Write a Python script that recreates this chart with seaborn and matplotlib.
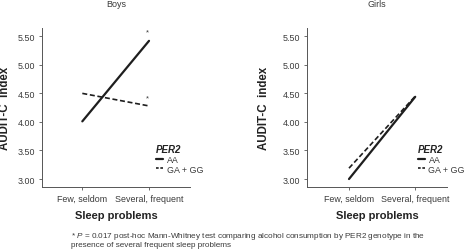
import matplotlib
matplotlib.use("Agg")
import matplotlib.pyplot as plt
import seaborn as sns
import pandas as pd
from matplotlib.lines import Line2D

sns.set_theme(style="ticks")
plt.rcParams['font.family'] = ['Liberation Sans', 'DejaVu Sans']
plt.rcParams['mathtext.fontset'] = 'custom'
plt.rcParams['mathtext.it'] = 'Liberation Sans:italic'
plt.rcParams['mathtext.rm'] = 'Liberation Sans'

categories = ["Few, seldom", "Several, frequent"]
genotypes = ["AA", "GA + GG"]
boys_AA = [4.01, 5.42]
boys_GAGG = [4.50, 4.28]
girls_AA = [3.00, 4.44]
girls_GAGG = [3.19, 4.45]
yticks = [3.00, 3.50, 4.00, 4.50, 5.00, 5.50]
star_boys = [5.57, 4.42]

def make_df(aa, gg):
    rows = []
    for i, c in enumerate(categories):
        rows.append({"x": i, "cat": c, "PER2": genotypes[0], "y": aa[i]})
        rows.append({"x": i, "cat": c, "PER2": genotypes[1], "y": gg[i]})
    return pd.DataFrame(rows)

fig = plt.figure(figsize=(4.69, 2.51), dpi=100)
ax1 = fig.add_axes([0.0896, 0.2498, 0.3156, 0.6335])
ax2 = fig.add_axes([0.6552, 0.2498, 0.2979, 0.6335])

txt = "#3a3a3a"
spine_c = "#555555"
line_c = "#1e1e1e"

panels = [(ax1, make_df(boys_AA, boys_GAGG), "Boys", (-0.604, 1.615), (0.93, 0.18), -0.21),
          (ax2, make_df(girls_AA, girls_GAGG), "Girls", (-0.63, 1.48), (0.96, 0.18), -0.27)]

for ax, df, title, xl, legpos, ylx in panels:
    sns.lineplot(data=df, x="x", y="y", style="PER2", ax=ax,
                 dashes={"AA": "", "GA + GG": (3, 1.6)},
                 color=line_c, legend=False, estimator=None, sort=False)
    for ln, lw in zip(ax.get_lines(), [1.6, 1.2]):
        ln.set_linewidth(lw)
    ax.set_xlim(*xl)
    ax.set_ylim(2.855, 5.64)
    ax.set_xticks([0, 1])
    ax.set_xticklabels(categories)
    ax.set_yticks(yticks)
    ax.set_yticklabels([f"{v:.2f}" for v in yticks])
    ax.tick_params(axis="both", labelsize=6.4, colors=spine_c, labelcolor=txt,
                   length=2.5, width=0.6, pad=2.5)
    for s in ["top", "right"]:
        ax.spines[s].set_visible(False)
    for s in ["left", "bottom"]:
        ax.spines[s].set_color(spine_c)
        ax.spines[s].set_linewidth(0.7)
    ax.set_xlabel("Sleep problems", fontsize=8, fontweight="bold", color="#222222", labelpad=5)
    ax.set_ylabel("AUDIT-C  index", fontsize=8.3, fontweight="bold", color="#222222")
    ax.yaxis.set_label_coords(ylx, 0.5)
    ax.set_title(title, fontsize=6.5, color=txt, pad=16)
    ax.set_facecolor("white")
    handles = [Line2D([], [], color=line_c, lw=1.6),
               Line2D([], [], color=line_c, lw=1.2, dashes=(1.6, 1.0))]
    leg = ax.legend(handles, genotypes, title="PER2", frameon=False, fontsize=6.4,
                    loc="center", bbox_to_anchor=legpos,
                    handlelength=0.8, handletextpad=0.4, labelspacing=0.1,
                    borderpad=0.1)
    leg._legend_box.align = "left"
    leg.get_title().set_fontsize(7)
    leg.get_title().set_fontweight("bold")
    leg.get_title().set_fontstyle("italic")
    leg.get_title().set_color("#222222")
    for t in leg.get_texts():
        t.set_color(txt)

for v in star_boys:
    ax1.text(0.98, v, "*", fontsize=5.5, color=txt, ha="center", va="center")

fig.text(0.151, 0.043,
         "* $\\it{P}$ = 0.017 post-hoc Mann-Whitney test comparing alcohol consumption by PER2 genotype in the\n"
         "presence of several frequent sleep problems",
         fontsize=5.85, color=txt, ha="left", va="center", linespacing=1.05)

fig.savefig("out.png", dpi=100, facecolor="white")
